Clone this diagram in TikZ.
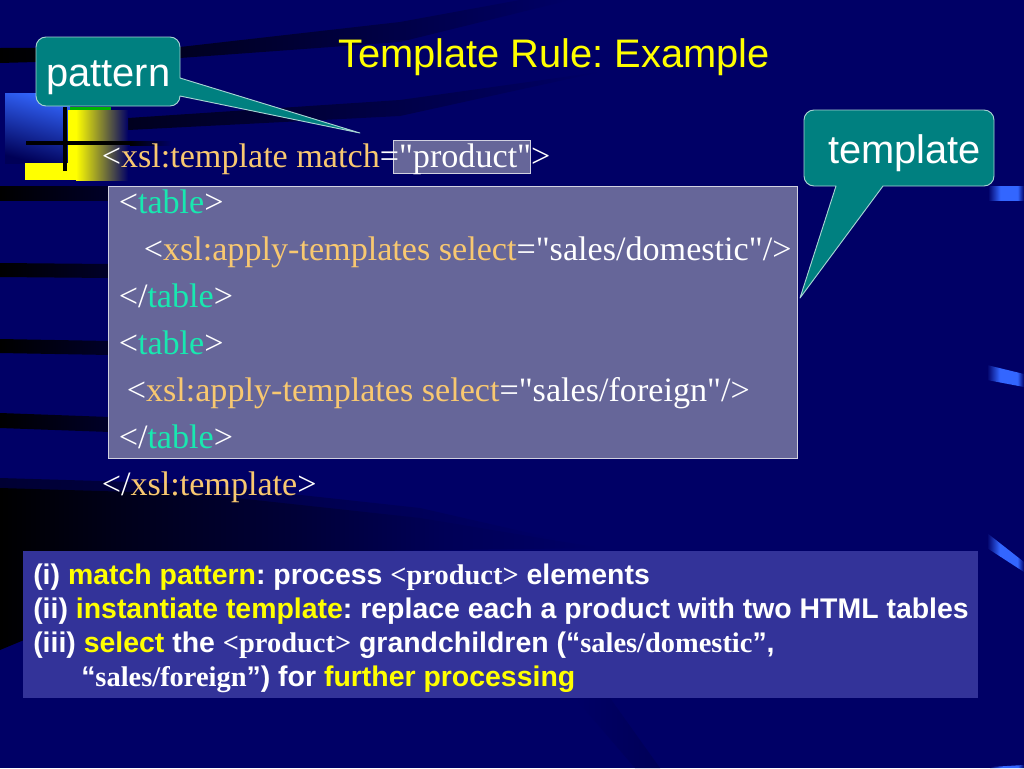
\documentclass[tikz,border=0pt]{standalone}
\usepackage{fontspec}
\setmainfont{Liberation Serif}[Ligatures=TeXOff]
\setsansfont{Liberation Sans}
\definecolor{navy}{HTML}{000066}
\definecolor{teal0}{HTML}{008080}
\definecolor{gold0}{HTML}{F8C870}
\definecolor{aqua0}{HTML}{18E8B0}
\definecolor{slate0}{HTML}{666699}
\definecolor{boxb}{HTML}{333399}
\definecolor{tabb}{HTML}{3366FF}
\definecolor{yel}{HTML}{FFFF00}
\pgfdeclarehorizontalshading{tabfade}{100bp}{color(0bp)=(navy); color(25bp)=(navy); color(42bp)=(tabb); color(66bp)=(tabb); color(75bp)=(navy); color(100bp)=(navy)}
\pgfdeclarehorizontalshading{lowfade}{100bp}{color(0bp)=(black); color(25bp)=(black); color(35bp)=(black!75!navy); color(50bp)=(black!45!navy); color(62bp)=(black!15!navy); color(75bp)=(navy); color(100bp)=(navy)}
\newcommand{\gd}[1]{\textcolor{gold0}{#1}}
\newcommand{\aq}[1]{\textcolor{aqua0}{#1}}
\newcommand{\ye}[1]{\textcolor{yel}{#1}}
\newcommand{\se}[1]{{\rmfamily\bfseries\fontsize{21.33}{24}\selectfont #1}}
\tikzset{
  code/.style={anchor=base west,text=white,inner sep=0pt,font=\rmfamily\fontsize{25.6}{28}\selectfont},
  note/.style={anchor=base west,text=white,inner sep=0pt,font=\sffamily\bfseries\fontsize{21.33}{24}\selectfont},
  tag/.style={anchor=base west,text=white,inner sep=0pt,font=\sffamily\fontsize{29.87}{32}\selectfont},
  bubble/.style={fill=teal0,draw=white!65!teal0,line width=0.7pt,line join=round},
  streak/.style={left color=black,right color=navy,draw=none},
  softstreak/.style={left color=black!70!navy,right color=navy,draw=none},
  bandstreak/.style={left color=black,right color=black!60!navy,draw=none},
  tabshape/.style={shading=tabfade,draw=none},
}
\begin{document}
\frenchspacing
\begin{tikzpicture}[x=0.75pt,y=-0.75pt]
\useasboundingbox (0,0) rectangle (1024,768);
\fill[navy] (0,0) rectangle (1024,768);
% dark streaks
\path[streak] (0,48) -- (180,47) -- (400,22) -- (520,0) -- (570,0) -- (400,42) -- (180,58) -- (0,63) -- cycle;
\path[softstreak] (128,118) -- (400,100) -- (600,72) -- (400,116) -- (128,130) -- cycle;
\path[bandstreak] (0,186) rectangle (110,200);
\path[bandstreak] (0,263) -- (110,264) -- (110,278) -- (0,277) -- cycle;
\path[bandstreak] (0,339) -- (110,341) -- (110,355) -- (0,353) -- cycle;
\path[bandstreak] (0,413) -- (110,417) -- (110,432) -- (0,428) -- cycle;
\path[left color=black!50!navy,right color=navy] (0,478) -- (200,484) -- (420,508) -- (560,540) -- (200,500) -- (0,495) -- cycle;
\path[shading=lowfade] (0,488) -- (200,494) -- (420,518) -- (600,548) -- (300,552) -- (120,600) -- (0,650) -- cycle;
\path[left color=navy,right color=black!15!navy] (575,698) -- (610,698) -- (660,768) -- (635,768) -- cycle;
\path[left color=black,right color=navy] (130,141) rectangle (172,145);
% right tabs
\path[tabshape] (988,186) -- (1024,186) -- (1024,200) -- (988,200) -- cycle;
\path[tabshape] (987,365) -- (1024,374) -- (1024,387) -- (987,380) -- cycle;
\path[tabshape] (987,533) -- (1024,562) -- (1024,572) -- (987,548) -- cycle;
\path[tabshape] (990,767) -- (1024,765) -- (1024,768) -- (990,768) -- cycle;
% logo
\path[top color=tabb,bottom color=navy!85!black,shading angle=-15] (5,93) rectangle (70,163);
\fill[green!70!black] (70,107) rectangle (111,111);
\fill[yel] (25,163) rectangle (76,180);
\path[left color=yel,right color=navy] (76,110) rectangle (128,180);
\fill[yel] (68,110) rectangle (77,180);
\fill[black] (62.5,107) rectangle (66.5,171);
\fill[black] (26,141) rectangle (130,145);
% panels
\node[fill=slate0,draw=white!70!slate0,line width=0.6pt,minimum width=689*0.75pt,minimum height=272*0.75pt,inner sep=0pt] (codebox) at (452.5,322) {};
\node[fill=slate0,draw=white!70!slate0,line width=0.5pt,minimum width=137*0.75pt,minimum height=33*0.75pt,inner sep=0pt] (prod) at (461.5,157) {};
\node[fill=boxb,minimum width=955*0.75pt,minimum height=147*0.75pt,inner sep=0pt] (notes) at (500.5,624) {};
% title
\node[anchor=base west,inner sep=0pt,text=yel,font=\sffamily\fontsize{29.87}{32}\selectfont] (title) at (338,67) {Template Rule: Example};
% code
\node[code] (c0) at (101.5,167) {<\gd{xsl:template match}="product">};
\node[code] (c1) at (118.5,213.5) {<\aq{table}>};
\node[code] (c2) at (143.5,260.5) {<\gd{xsl:apply-templates select}="sales/domestic"/>};
\node[code] (c3) at (118.5,307.5) {</\aq{table}>};
\node[code] (c4) at (118.5,354.5) {<\aq{table}>};
\node[code] (c5) at (126.5,401.5) {<\gd{xsl:apply-templates select}="sales/foreign"/>};
\node[code] (c6) at (118.5,448.5) {</\aq{table}>};
\node[code] (c7) at (101.5,495.5) {</\gd{xsl:template}>};
% notes
\node[note] (n1) at (33,584) {(i) \ye{match pattern}: process \se{<product>} elements};
\node[note] (n2) at (33,618) {(ii) \ye{instantiate template}: replace each a product with two HTML tables};
\node[note] (n3) at (33,652) {(iii) \ye{select} the \se{<product>} grandchildren (“\se{sales/domestic}”,};
\node[note] (n4) at (81,686) {“\se{sales/foreign}”) for \ye{further processing}};
% callouts
\coordinate (ptip) at (360,133);
\coordinate (ttip) at (800,298);
\path[bubble] (46,37) -- (170,37) arc (-90:0:10) -- (180,78) -- (ptip) -- (180,96) arc (0:90:10) -- (46,106) arc (90:180:10) -- (36,47) arc (180:270:10) -- cycle;
\path[bubble] (814,110) -- (984,110) arc (-90:0:10) -- (994,176) arc (0:90:10) -- (883,186) -- (ttip) -- (836,186) -- (814,186) arc (90:180:10) -- (804,120) arc (180:270:10) -- cycle;
\node[tag] (pat) at (46,86) {pattern};
\node[tag] (tem) at (828,163) {template};
\end{tikzpicture}
\end{document}
